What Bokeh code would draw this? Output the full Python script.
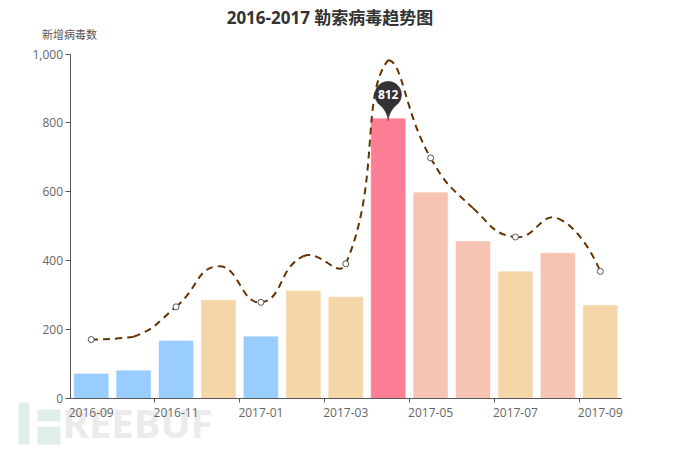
from math import pi, cos, sin, hypot
from bokeh.plotting import figure
from bokeh.models import FixedTicker, LinearAxis, Range1d
from bokeh.core.properties import value
from bokeh.embed import file_html
from bokeh.resources import INLINE

months = ["2016-09","2016-10","2016-11","2016-12","2017-01","2017-02","2017-03",
          "2017-04","2017-05","2017-06","2017-07","2017-08","2017-09"]
bar_values = [70, 79, 166, 284, 178, 311, 293, 812, 597, 455, 367, 421, 269]
line_values = [170, 178, 265, 383, 278, 412, 390, 982, 698, 552, 468, 522, 368]
y_ticks = [0, 200, 400, 600, 800, 1000]
title_text = "2016-2017 勒索病毒趋势图"
y_name = "新增病毒数"
peak_label = "812"
watermark = "REEBUF"
FONT = "Open Sans, Noto Sans CJK SC, sans-serif"

def band_color(v):
    if v <= 200:
        return "#99CCFF"
    if v <= 400:
        return "#F5D6A8"
    if v <= 800:
        return "#F7C4B4"
    return "#FB7E94"

W, H = 690, 451
L, R, T, B = 69.5, 69, 53.5, 53.5
n = len(months)
ux, uy = n / (W - L - R), 1000 / (H - T - B)   # data units per pixel

p = figure(width=W, height=H, output_backend="svg", toolbar_location=None,
           x_range=Range1d(-0.5 - L * ux, n - 0.5 + R * ux),
           y_range=Range1d(-B * uy, 1000 + T * uy),
           x_axis_type=None, y_axis_type=None,
           min_border=0, background_fill_color="white", border_fill_color="white",
           outline_line_color=None)
p.grid.visible = False

def dx(px):   # picture x to data x
    return -0.5 + (px - L) * ux
def dy(py):   # picture y to data y
    return (H - B - py) * uy

xs = list(range(n))
xaxis = LinearAxis(fixed_location=0, bounds=(-0.5, n - 0.5))
xaxis.ticker = FixedTicker(ticks=xs[::2], minor_ticks=[x - 0.5 for x in xs[::2]][1:])
xaxis.major_label_overrides = {i: months[i] for i in xs}
xaxis.major_tick_in = 0
xaxis.major_tick_out = 0
xaxis.minor_tick_in = 0
xaxis.minor_tick_out = 4
xaxis.minor_tick_line_color = "#555555"
xaxis.major_label_standoff = 6
yaxis = LinearAxis(fixed_location=-0.5, bounds=(0, 1000))
yaxis.ticker = FixedTicker(ticks=y_ticks)
yaxis.major_label_overrides = {v: f"{v:,}" for v in y_ticks}
yaxis.major_tick_in = 0
yaxis.major_tick_out = 5
yaxis.minor_tick_line_color = None
yaxis.major_tick_line_color = "#555555"
yaxis.major_label_standoff = 2
for ax in (xaxis, yaxis):
    ax.axis_line_color = "#555555"
    ax.axis_line_width = 1
    ax.major_label_text_color = "#666666"
    ax.major_label_text_font = FONT
    ax.major_label_text_font_size = "12px"
p.add_layout(xaxis, "below")
p.add_layout(yaxis, "left")

# Watermark
boxes = [(18, 29, 402, 444), (37, 60, 409, 421), (37, 60, 426, 444)]
p.quad(left=[dx(b[0]) for b in boxes], right=[dx(b[1]) for b in boxes],
       top=[dy(b[2]) for b in boxes], bottom=[dy(b[3]) for b in boxes],
       fill_color="#E0EEE8", line_color=None)
p.text(x=[dx(62)], y=[dy(449)], text=[watermark], text_align="left", text_baseline="bottom",
       text_font=value(FONT), text_font_style="bold", text_font_size="40px", text_color="#EBEBEB")

# Bars
p.vbar(x=xs, top=bar_values, width=0.8, bottom=0,
       fill_color=[band_color(v) for v in bar_values],
       line_color=[band_color(v) for v in bar_values], line_alpha=0.6, fill_alpha=1)

# Smooth dashed line as Bezier segments through the data (tangents measured in pixels)
s = 0.5
lo, hi = min(line_values), max(line_values)
def clamp(v):
    return max(lo, min(hi, v))
def seglen(i, j):
    return hypot((xs[j] - xs[i]) / ux, (line_values[j] - line_values[i]) / uy)
cp_prev, cp_next = {}, {}
for i in range(n):
    if i == 0 or i == n - 1:
        cp_prev[i] = cp_next[i] = (xs[i], line_values[i])
        continue
    vx = xs[i + 1] - xs[i - 1]
    vy = line_values[i + 1] - line_values[i - 1]
    a, b = seglen(i - 1, i), seglen(i, i + 1)
    rn = b / (a + b)
    cp_next[i] = (xs[i] + vx * s * rn, clamp(line_values[i] + vy * s * rn))
    cp_prev[i] = (xs[i] - vx * s * (1 - rn), clamp(line_values[i] - vy * s * (1 - rn)))
idx = list(range(n - 1))
p.bezier(x0=[xs[i] for i in idx], y0=[line_values[i] for i in idx],
         x1=[xs[i + 1] for i in idx], y1=[line_values[i + 1] for i in idx],
         cx0=[cp_next[i][0] for i in idx], cy0=[cp_next[i][1] for i in idx],
         cx1=[cp_prev[i + 1][0] for i in idx], cy1=[cp_prev[i + 1][1] for i in idx],
         line_color="#663300", line_width=2, line_dash="7 5")
p.scatter(x=xs[::2], y=line_values[::2], marker="circle", size=6,
          fill_color="white", line_color="#555555", line_width=1)

# Pin at the maximum bar
imax = bar_values.index(max(bar_values))
rad, cy = 13.3, 24.0
right_edge = (rad * cos(-pi / 4), cy + rad * sin(-pi / 4))
left_edge = (-right_edge[0], right_edge[1])
pin_x, pin_y = [], []
for t in [i / 10 for i in range(11)]:
    pin_x.append(2 * (1 - t) * t * 1.0 + t * t * right_edge[0])
    pin_y.append((1 - t) ** 2 * -2 + 2 * (1 - t) * t * 8 + t * t * right_edge[1])
for j in range(1, 41):
    ang = -pi / 4 + j / 40 * (3 * pi / 2)
    pin_x.append(rad * cos(ang)); pin_y.append(cy + rad * sin(ang))
for t in [i / 10 for i in range(1, 11)]:
    pin_x.append((1 - t) ** 2 * left_edge[0] + 2 * (1 - t) * t * -1.0)
    pin_y.append((1 - t) ** 2 * left_edge[1] + 2 * (1 - t) * t * 8 + t * t * -2)
p.patch(x=[xs[imax] + a * ux for a in pin_x], y=[bar_values[imax] + a * uy for a in pin_y],
        fill_color="#333333", line_color="#333333", line_width=0.5)
p.text(x=[xs[imax]], y=[bar_values[imax]], text=[peak_label], y_offset=-24,
       text_align="center", text_baseline="middle", text_color="white",
       text_font=value(FONT), text_font_style="bold", text_font_size="12px")

# Title and axis name
p.text(x=[dx(329.5)], y=[dy(17)], text=[title_text], text_align="center", text_baseline="middle",
       text_font=value(FONT), text_font_style="bold", text_font_size="17px", text_color="#333333")
p.text(x=[dx(69)], y=[dy(34)], text=[y_name], text_align="center", text_baseline="middle",
       text_font=value(FONT), text_font_size="11px", text_color="#555555")

open("out.html", "w").write(file_html(p, INLINE))
